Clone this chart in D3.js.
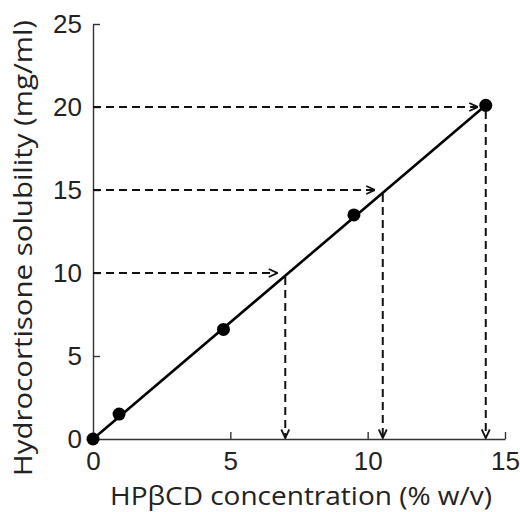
<!DOCTYPE html>
<html><head><meta charset="utf-8">
<script src="https://cdn.jsdelivr.net/npm/d3@7/dist/d3.min.js"></script>
<style>body{margin:0;background:#fff;}</style>
</head><body>
<svg id="chart" width="520" height="512"></svg>
<script>
const xValues = [0, 0.95, 4.75, 9.5, 14.3];
const yValues = [0, 1.5, 6.6, 13.5, 20.1];
const fitLine = [[0, 0], [14.3, 20.1]];
const targetY = [10, 15, 20];
const targetX = [7.0, 10.55, 14.3];
const xTicks = [0, 5, 10, 15];
const yTicks = [0, 5, 10, 15, 20, 25];
const xLabel = "HPβCD concentration (% w/v)";
const yLabel = "Hydrocortisone solubility (mg/ml)";

const svg = d3.select("#chart");
const x = d3.scaleLinear().domain([0, 15]).range([93, 505]);
const y = d3.scaleLinear().domain([0, 25]).range([439, 24]);

svg.append("defs").append("marker")
  .attr("id", "arr").attr("viewBox", "0 0 10 10").attr("refX", 9.5).attr("refY", 5)
  .attr("markerWidth", 10).attr("markerHeight", 10).attr("markerUnits", "userSpaceOnUse")
  .attr("orient", "auto")
  .append("path").attr("d", "M1,1 L9.5,5 L1,9").attr("fill", "none")
  .attr("stroke", "#111").attr("stroke-width", 1.8);

const xAxis = svg.append("g").attr("transform", `translate(0,${y(0)})`)
  .call(d3.axisBottom(x).tickValues(xTicks).tickSizeInner(-7).tickSizeOuter(0).tickPadding(13));
const yAxis = svg.append("g").attr("transform", `translate(${x(0)},0)`)
  .call(d3.axisLeft(y).tickValues(yTicks).tickSizeInner(-7).tickSizeOuter(0).tickPadding(11));
[xAxis, yAxis].forEach(g => {
  g.selectAll("path,line").attr("stroke", "#333").attr("stroke-width", 1.4);
  g.selectAll("text").attr("font-family", "Liberation Sans, Arial, sans-serif")
    .attr("font-size", 26).attr("fill", "#222");
});
xAxis.selectAll("text").attr("dy", "0.71em");

// dashed guides
const dash = "8,5";
targetY.forEach((ty, i) => {
  const tx = targetX[i];
  svg.append("line").attr("x1", x(0)).attr("y1", y(ty)).attr("x2", x(tx) - 8).attr("y2", y(ty))
    .attr("stroke", "#111").attr("stroke-width", 2).attr("stroke-dasharray", dash)
    .attr("marker-end", "url(#arr)");
  svg.append("line").attr("x1", x(tx)).attr("y1", y(ty) + 4).attr("x2", x(tx)).attr("y2", y(0) - 1)
    .attr("stroke", "#111").attr("stroke-width", 2).attr("stroke-dasharray", dash)
    .attr("marker-end", "url(#arr)");
});

// fit line
svg.append("line").attr("x1", x(fitLine[0][0])).attr("y1", y(fitLine[0][1]))
  .attr("x2", x(fitLine[1][0])).attr("y2", y(fitLine[1][1]))
  .attr("stroke", "#000").attr("stroke-width", 2.6);

// points
svg.selectAll("circle.pt").data(xValues).enter().append("circle")
  .attr("cx", d => x(d)).attr("cy", (d, i) => y(yValues[i])).attr("r", 6.5).attr("fill", "#000");

svg.append("text").attr("x", 110).attr("y", 505)
  .attr("font-family", "Open Sans, sans-serif").attr("font-size", 25).attr("fill", "#222")
  .attr("textLength", 382).attr("lengthAdjust", "spacingAndGlyphs").text(xLabel);
svg.append("text").attr("transform", "translate(32,476) rotate(-90)")
  .attr("font-family", "Open Sans, sans-serif").attr("font-size", 25).attr("fill", "#222")
  .attr("textLength", 456).attr("lengthAdjust", "spacingAndGlyphs").text(yLabel);
</script>
</body></html>
